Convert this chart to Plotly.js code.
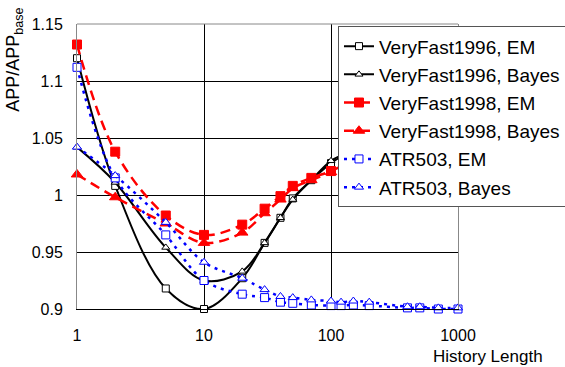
<!DOCTYPE html>
<html>
<head>
<meta charset="utf-8">
<script src="https://cdn.plot.ly/plotly-3.0.1.min.js"></script>
<style>html,body{margin:0;padding:0;background:#fff;}#chart{width:565px;height:367px;}</style>
</head>
<body>
<div id="chart"></div>
<script>
// History lengths
var histA = [1, 2, 5, 10, 20, 30, 40, 50, 70, 100, 150, 200];
var histB = [1, 2, 5, 10, 20, 30, 40, 50, 70, 100, 120, 150, 200, 400, 500, 700, 1000];

// APP / APP_base values
var vf96EM    = [1.120, 1.008, 0.918, 0.900, 0.927, 0.958, 0.980, 0.997, 1.013, 1.028, 1.040, 1.050];
var vf96Bayes = [1.042, 1.011, 0.954, 0.925, 0.933, 0.958, 0.980, 0.996, 1.013, 1.030, 1.040, 1.050];
var vf98EM    = [1.132, 1.038, 0.982, 0.965, 0.974, 0.988, 0.999, 1.008, 1.015, 1.021, 1.030, 1.035];
var vf98Bayes = [1.018, 0.998, 0.975, 0.958, 0.967, 0.984, 0.996, 1.006, 1.013, 1.020, 1.028, 1.033];
var atrEM     = [1.112, 1.015, 0.965, 0.925, 0.913, 0.910, 0.906, 0.905, 0.9035, 0.903, 0.903, 0.9035, 0.903, 0.901, 0.901, 0.900, 0.900];
var atrBayes  = [1.042, 1.017, 0.976, 0.941, 0.927, 0.917, 0.911, 0.910, 0.908, 0.907, 0.906, 0.907, 0.906, 0.902, 0.902, 0.901, 0.901];

var names = ['VeryFast1996, EM', 'VeryFast1996, Bayes', 'VeryFast1998, EM',
             'VeryFast1998, Bayes', 'ATR503, EM', 'ATR503, Bayes'];
var yTickVals = [0.9, 0.95, 1, 1.05, 1.1, 1.15];
var yTickText = ['0.9', '0.95', '1', '1.05', '1.1', '1.15'];
var xTickVals = [1, 10, 100, 1000];
var xTickText = ['1', '10', '100', '1000'];

function tr(x, y, name, color, dash, width, symbol, fill, size) {
  return {
    x: x, y: y, name: name, type: 'scatter', mode: 'lines+markers',
    legendgroup: name, cliponaxis: false,
    line: {color: color, dash: dash, width: width, shape: 'spline', smoothing: 1},
    marker: {symbol: symbol, color: fill, size: size, line: {color: color, width: 1}}
  };
}

var data = [
  tr(histA, vf96EM, names[0], '#000000', 'solid', 2, 'square', '#ffffff', 7),
  tr(histA, vf96Bayes, names[1], '#000000', 'solid', 2, 'triangle-up', '#ffffff', 7),
  tr(histA, vf98EM, names[2], '#ff0000', '10px,6px', 2.5, 'square', '#ff0000', 9),
  tr(histA, vf98Bayes, names[3], '#ff0000', '10px,6px', 2.5, 'triangle-up', '#ff0000', 10),
  tr(histB, atrEM, names[4], '#0000ff', '3px,5px', 2.5, 'square', '#ffffff', 8),
  tr(histB, atrBayes, names[5], '#0000ff', '3px,5px', 2.5, 'triangle-up', '#ffffff', 8)
];

var font = 'Liberation Sans, Arial, sans-serif';
var layout = {
  width: 565, height: 367,
  margin: {l: 77, r: 107, t: 24, b: 58, autoexpand: false},
  paper_bgcolor: '#ffffff', plot_bgcolor: '#ffffff',
  font: {family: font, size: 16, color: '#000'},
  showlegend: true,
  legend: {
    x: 0.685, y: 0.992, xanchor: 'left', yanchor: 'top',
    bgcolor: '#ffffff', bordercolor: '#555555', borderwidth: 1,
    font: {family: font, size: 19, color: '#000'},
    tracegroupgap: 0.5
  },
  xaxis: {
    type: 'log', range: [0, 3],
    tickvals: xTickVals, ticktext: xTickText,
    showgrid: true, gridcolor: '#000000', gridwidth: 1,
    showline: true, linecolor: '#000000', linewidth: 1,
    zeroline: false, ticks: '', ticklabelstandoff: 12,
    tickfont: {family: font, size: 16}
  },
  yaxis: {
    range: [0.9, 1.15],
    tickvals: yTickVals, ticktext: yTickText,
    showgrid: true, gridcolor: '#000000', gridwidth: 1,
    showline: true, linecolor: '#888888', linewidth: 1, mirror: true,
    zeroline: false, ticks: '', ticklabelstandoff: 10,
    tickfont: {family: font, size: 16}
  },
  shapes: [{type: 'line', xref: 'paper', yref: 'paper', x0: 0, x1: 1, y0: 1, y1: 1,
            line: {color: '#888888', width: 1}}],
  annotations: [
    {text: 'APP/APP<sub>base</sub>', xref: 'paper', yref: 'paper',
     x: -0.163, y: 0.874, xanchor: 'center', yanchor: 'middle', textangle: -90,
     showarrow: false, font: {family: font, size: 18, color: '#000'}},
    {text: 'History Length', xref: 'paper', yref: 'paper',
     x: 1.228, y: -0.168, xanchor: 'right', yanchor: 'middle',
     showarrow: false, font: {family: font, size: 17, color: '#000'}}
  ]
};

Plotly.newPlot('chart', data, layout, {displayModeBar: false, staticPlot: true});
</script>
</body>
</html>
